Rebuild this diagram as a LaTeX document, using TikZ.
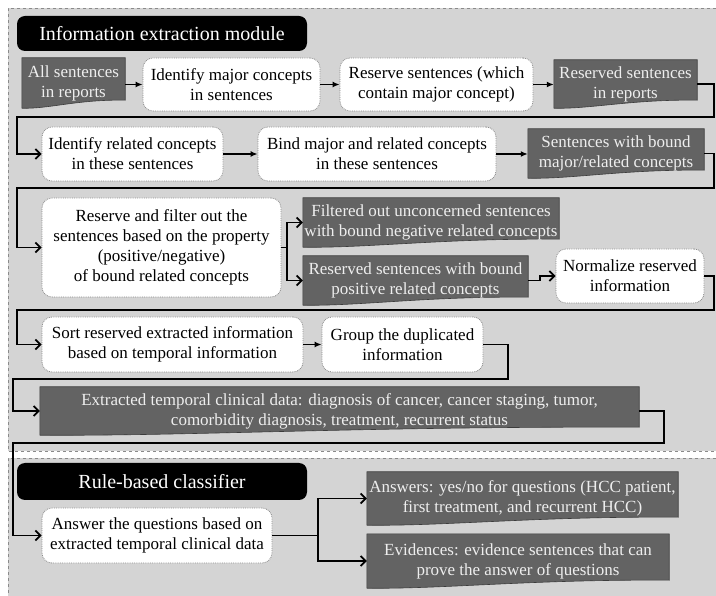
\documentclass[tikz,border=0pt]{standalone}
\usepackage{fontspec}
\setmainfont{Liberation Serif}
\usetikzlibrary{arrows.meta,calc}
\definecolor{panelgray}{HTML}{D4D4D4}
\definecolor{paneledge}{HTML}{8A8A8A}
\definecolor{docgray}{HTML}{636363}
\definecolor{docedge}{HTML}{3C3C3C}
\definecolor{dotgray}{HTML}{8A8A8A}
\definecolor{doctext}{HTML}{EEEEEE}
\pgfdeclarelayer{bg}
\pgfdeclarelayer{docbg}
\pgfsetlayers{bg,docbg,main}
\newcommand\drawdoc[1]{%
  \filldraw[docshape] (#1.north west) -- (#1.north east) -- ($(#1.south east)+(0,-8)$)
    .. controls ($(#1.south east)!0.45!(#1.south west)+(0,-9)$) and ($(#1.south west)!0.25!(#1.south east)+(0,1)$) .. (#1.south west) -- cycle;}
\tikzset{
  rbox/.style={draw=dotgray, densely dotted, line width=0.8pt, fill=white, rounded corners=10pt,
    align=center, inner sep=0pt, font=\fontsize{17}{20}\selectfont, text=black},
  dbox/.style={align=center, inner sep=0pt, font=\fontsize{17}{20}\selectfont, text=doctext},
  docshape/.style={fill=docgray, draw=docedge, line width=0.6pt},
  titlebox/.style={fill=black, rounded corners=8pt, text=white, font=\fontsize{20}{24}\selectfont, inner sep=0pt},
  link/.style={draw, line width=1.6pt, -{Latex[length=7pt,width=6pt]}},
  plainlink/.style={draw, line width=1.8pt},
  elbow/.style={draw, line width=1.8pt, -{Straight Barb[length=5pt,width=10pt]}},
  panel/.style={draw=paneledge, dashed, line width=0.9pt},
}
\begin{document}
\begin{tikzpicture}[x=1pt,y=-1pt]
\useasboundingbox (0,0) rectangle (716,596);
% panels
\begin{pgfonlayer}{bg}
  \fill[panelgray] (8,8) rectangle (716,451);
  \draw[panel] (716,8) -- (8,8) -- (8,451) -- (716,451);
  \fill[panelgray] (8,458) rectangle (716,596);
  \draw[panel] (716,458) -- (8,458) -- (8,596);
\end{pgfonlayer}
% titles
\node[titlebox, minimum width=290, minimum height=35] (t1) at (162,33.5) {Information extraction module};
\node[titlebox, minimum width=290, minimum height=37] (t2) at (162,481.5) {Rule-based classifier};
% row 1
\node[dbox, minimum width=103, minimum height=50] (all) at (73.5,83) {All sentences\\in reports};
\node[rbox, minimum width=177, minimum height=53] (idmaj) at (231.5,84.5) {Identify major concepts\\in sentences};
\node[rbox, minimum width=193, minimum height=53] (resv) at (436.5,84.5) {Reserve sentences (which\\contain major concept)};
\node[dbox, minimum width=143, minimum height=48] (resdoc) at (625.5,84) {Reserved sentences\\in reports};
% row 2
\node[rbox, minimum width=181, minimum height=54] (idrel) at (132.5,154) {Identify related concepts\\in these sentences};
\node[rbox, minimum width=238, minimum height=54] (bind) at (377,154) {Bind major and related concepts\\in these sentences};
\node[dbox, minimum width=176, minimum height=49] (sentb) at (616,153.5) {Sentences with bound\\major/related concepts};
% row 3
\node[rbox, minimum width=239, minimum height=99] (filt) at (161.5,247.5) {Reserve and filter out the\\sentences based on the property\\(positive/negative)\\of bound related concepts};
\node[dbox, minimum width=256, minimum height=49] (neg) at (431,222.5) {Filtered out unconcerned sentences\\with bound negative related concepts};
\node[dbox, minimum width=225, minimum height=49] (pos) at (415.5,280.5) {Reserved sentences with bound\\positive related concepts};
\node[rbox, minimum width=148, minimum height=54] (norm) at (630,276) {Normalize reserved\\information};
% row 4
\node[rbox, minimum width=261, minimum height=55] (sort) at (172.5,344.5) {Sort reserved extracted information\\based on temporal information};
\node[rbox, minimum width=161, minimum height=55] (group) at (402.5,344.5) {Group the duplicated\\information};
% row 5
\node[dbox, minimum width=599, minimum height=48] (ext) at (339.5,411) {Extracted temporal clinical data: diagnosis of cancer, cancer staging, tumor,\\comorbidity diagnosis, treatment, recurrent status};
% panel 2
\node[rbox, minimum width=230, minimum height=55] (ans) at (157,535.5) {Answer the questions based on\\extracted temporal clinical data};
\node[dbox, minimum width=311, minimum height=53] (yes) at (522.5,498.5) {Answers: yes/no for questions (HCC patient,\\first treatment, and recurrent HCC)};
\node[dbox, minimum width=302, minimum height=54] (evid) at (518,561) {Evidences: evidence sentences that can\\prove the answer of questions};
% document shapes
\begin{pgfonlayer}{docbg}
  \drawdoc{all}\drawdoc{resdoc}\drawdoc{sentb}\drawdoc{neg}\drawdoc{pos}\drawdoc{ext}\drawdoc{yes}\drawdoc{evid}
\end{pgfonlayer}
% connectors
\draw[link] (all.east |- idmaj.west) -- (idmaj.west);
\draw[link] (idmaj) -- (resv);
\draw[link] (resv.east) -- (resdoc.west |- resv.east);
\draw[elbow] (resdoc.east) -| (714,117) -- (17,117) |- (idrel.west);
\draw[link] (idrel) -- (bind);
\draw[link] (bind.east) -- (sentb.west |- bind.east);
\draw[elbow] (sentb.east) -| (714,188) -- (17,188) |- (filt.west);
\coordinate (br1) at (287,247.5);
\draw[plainlink] (filt.east) -- (br1);
\draw[elbow] (br1) |- (neg.west);
\draw[elbow] (br1) |- (pos.west);
\draw[elbow] (pos.east) -- ++(12,0) |- (norm.west);
\draw[elbow] (norm.east) -| (714,310) -- (17,310) |- (sort.west);
\draw[link] (sort) -- (group);
\draw[elbow] (group.east) -| (508,379) -- (13,379) |- (ext.west);
\draw[elbow] (ext.east) -| (664,443) -- (13,443) |- (ans.west);
\coordinate (br2) at (318,535.5);
\draw[plainlink] (ans.east) -- (br2);
\draw[elbow] (br2) |- (yes.west);
\draw[elbow] (br2) |- (evid.west);
\end{tikzpicture}
\end{document}
